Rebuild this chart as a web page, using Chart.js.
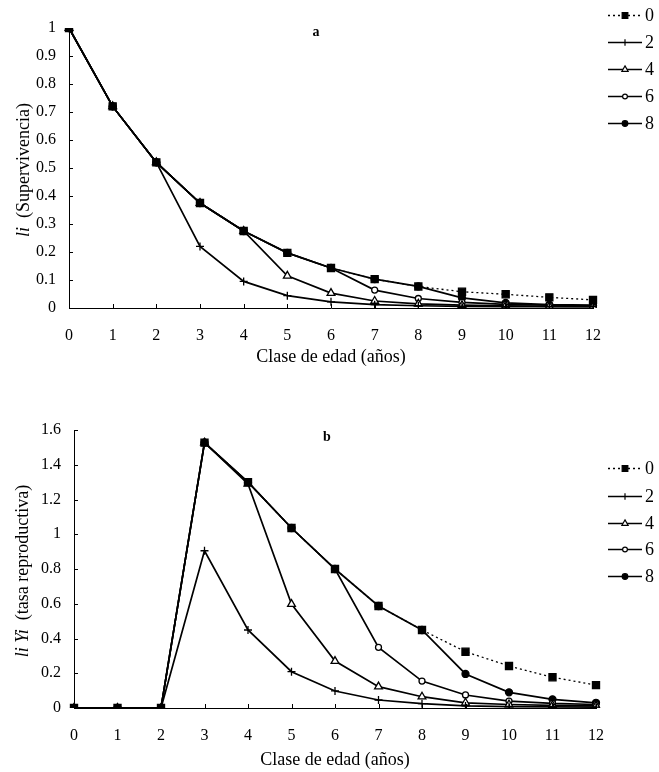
<!DOCTYPE html>
<html><head><meta charset="utf-8">
<script src="https://cdn.jsdelivr.net/npm/chart.js@4"></script>
<style>
html,body{margin:0;padding:0;background:#fff;}
#wa{position:absolute;left:0;top:0;width:659px;height:372px;}
#wb{position:absolute;left:0;top:380px;width:659px;height:392px;}
</style></head><body>
<div id="wa"><canvas id="ca"></canvas></div>
<div id="wb"><canvas id="cb"></canvas></div>
<script>
// ---------- data ----------
const ages = ['0','1','2','3','4','5','6','7','8','9','10','11','12'];
const seriesNames = ['0','2','4','6','8'];

// panel a: li (supervivencia)
const liS0 = [1,0.72,0.52,0.375,0.275,0.197,0.143,0.103,0.077,0.058,0.049,0.038,0.029];
const liS2 = [1,0.72,0.52,0.22,0.095,0.044,0.022,0.012,0.008,0.006,0.005,0.005,0.005];
const liS4 = [1,0.72,0.52,0.375,0.275,0.115,0.053,0.025,0.015,0.01,0.008,0.006,0.005];
const liS6 = [1,0.72,0.52,0.375,0.275,0.197,0.143,0.064,0.034,0.02,0.013,0.01,0.008];
const liS8 = [1,0.72,0.52,0.375,0.275,0.197,0.143,0.103,0.077,0.036,0.018,0.012,0.01];

// panel b: li Yi (tasa reproductiva)
const lyS0 = [0,0,0,1.527,1.30,1.036,0.80,0.587,0.449,0.324,0.242,0.177,0.132];
const lyS2 = [0,0,0,0.905,0.449,0.209,0.098,0.046,0.025,0.012,0.008,0.006,0.005];
const lyS4 = [0,0,0,1.527,1.29,0.598,0.27,0.123,0.065,0.03,0.02,0.015,0.012];
const lyS6 = [0,0,0,1.527,1.30,1.036,0.80,0.349,0.155,0.075,0.04,0.027,0.02];
const lyS8 = [0,0,0,1.527,1.30,1.036,0.80,0.587,0.449,0.196,0.09,0.05,0.03];

const yTicksA = [0,0.1,0.2,0.3,0.4,0.5,0.6,0.7,0.8,0.9,1];
const yLabelsA = ['0','0.1','0.2','0.3','0.4','0.5','0.6','0.7','0.8','0.9','1'];
const yTicksB = [0,0.2,0.4,0.6,0.8,1,1.2,1.4,1.6];
const yLabelsB = ['0','0.2','0.4','0.6','0.8','1','1.2','1.4','1.6'];

// ---------- styles ----------
const FONT = "'Liberation Serif','DejaVu Serif',serif";
const styles = [
  {pointStyle:'rect', pointRadius:5, bg:'#000', dash:[2,3], bw:1.3},
  {pointStyle:'cross', pointRadius:4, bg:'#000', dash:[], bw:1.7},
  {pointStyle:'triangle', pointRadius:4.5, bg:'#fff', dash:[], bw:1.7},
  {pointStyle:'circle', pointRadius:3, bg:'#fff', dash:[], bw:1.7},
  {pointStyle:'circle', pointRadius:3.5, bg:'#000', dash:[], bw:1.7}
];
function buildDatasets(arrs){
  return arrs.map((d,i)=>({
    label: seriesNames[i], data: d,
    borderColor:'#000', borderWidth: styles[i].bw, borderDash: styles[i].dash,
    pointStyle: styles[i].pointStyle, pointRadius: styles[i].pointRadius,
    pointBackgroundColor: styles[i].bg, pointBorderColor:'#000', pointBorderWidth:1.3,
    tension:0, fill:false
  }));
}

function drawMarker(ctx, st, x, y){
  ctx.save();
  ctx.setLineDash([]);
  ctx.strokeStyle='#000'; ctx.fillStyle=st.bg; ctx.lineWidth=1.2;
  const r = st.pointRadius;
  ctx.beginPath();
  if(st.pointStyle==='rect'){ const s=r*Math.SQRT1_2; ctx.rect(x-s,y-s,2*s,2*s); ctx.fill(); ctx.stroke(); }
  else if(st.pointStyle==='cross'){ ctx.moveTo(x-r,y); ctx.lineTo(x+r,y); ctx.moveTo(x,y-r); ctx.lineTo(x,y+r); ctx.stroke(); }
  else if(st.pointStyle==='triangle'){ ctx.moveTo(x,y-r); ctx.lineTo(x+r*0.866,y+r*0.5); ctx.lineTo(x-r*0.866,y+r*0.5); ctx.closePath(); ctx.fill(); ctx.stroke(); }
  else { ctx.arc(x,y,r,0,Math.PI*2); ctx.fill(); ctx.stroke(); }
  ctx.restore();
}

const decorCfg = {
  ca: {letter:'a', letterX:316, letterY:32, xTitleY:357, yTitleX:24, yItalic:'li', yNormal:'  (Supervivencia)', legY:[15,42,69,96,123]},
  cb: {letter:'b', letterX:327, letterY:57, xTitleY:380, yTitleX:23, yItalic:'li Yi', yNormal:'  (tasa reproductiva)', legY:[88,116,143,169,196]}
};

const decor = {
  id:'decor',
  afterDraw(chart){
    const c = decorCfg[chart.canvas.id];
    const ctx = chart.ctx, xs = chart.scales.x, ys = chart.scales.y, a = chart.chartArea;
    ctx.save();
    // inward tick marks
    ctx.strokeStyle='#000'; ctx.lineWidth=1; ctx.setLineDash([]);
    ctx.beginPath();
    xs.ticks.forEach((t,i)=>{ const px=Math.round(xs.getPixelForTick(i))+0.5; ctx.moveTo(px,a.bottom); ctx.lineTo(px,a.bottom-4); });
    ys.ticks.forEach((t,i)=>{ const py=Math.round(ys.getPixelForTick(i))+0.5; ctx.moveTo(a.left,py); ctx.lineTo(a.left+4,py); });
    ctx.stroke();
    // panel letter
    ctx.fillStyle='#000';
    ctx.font = "bold 14px "+FONT; ctx.textAlign='center'; ctx.textBaseline='middle';
    ctx.fillText(c.letter, c.letterX, c.letterY);
    // x title
    ctx.font = "18px "+FONT;
    ctx.fillText('Clase de edad (años)', (a.left+a.right)/2, c.xTitleY);
    // y title (rotated, mixed italic)
    const cy = (a.top+a.bottom)/2 + 2;
    ctx.translate(c.yTitleX, cy); ctx.rotate(-Math.PI/2);
    ctx.font = "italic 18px "+FONT; const w1 = ctx.measureText(c.yItalic).width;
    ctx.font = "18px "+FONT; const w2 = ctx.measureText(c.yNormal).width;
    const start = -(w1+w2)/2;
    ctx.textAlign='left';
    ctx.font = "italic 18px "+FONT; ctx.fillText(c.yItalic, start, 0);
    ctx.font = "18px "+FONT; ctx.fillText(c.yNormal, start+w1, 0);
    ctx.restore();
    // legend
    ctx.save();
    chart.data.datasets.forEach((ds,i)=>{
      const y = c.legY[i], st = styles[i];
      ctx.strokeStyle='#000'; ctx.lineWidth=st.bw; ctx.setLineDash(st.dash);
      ctx.beginPath(); ctx.moveTo(608,y+0.5); ctx.lineTo(642,y+0.5); ctx.stroke();
      drawMarker(ctx, Object.assign({}, st, {pointRadius: st.pointRadius*0.8}), 625, y+0.5);
      ctx.fillStyle='#000'; ctx.font="18px "+FONT; ctx.textAlign='left'; ctx.textBaseline='middle';
      ctx.fillText(ds.label, 645, y+1);
    });
    ctx.restore();
  }
};

function makeChart(id, arrs, cfg){
  return new Chart(document.getElementById(id), {
    type:'line',
    data:{labels: ages, datasets: buildDatasets(arrs)},
    options:{
      responsive:true, maintainAspectRatio:false, animation:false,
      layout:{padding:{top:cfg.top, right:cfg.right, left:0, bottom:0}},
      plugins:{legend:{display:false}, tooltip:{enabled:false}},
      scales:{
        x:{type:'category', offset:false,
           grid:{display:true, drawOnChartArea:false, drawTicks:false},
           border:{display:true, color:'#000', width:1},
           ticks:{color:'#000', font:{family:FONT, size:16}, padding:18, maxRotation:0, autoSkip:false},
           afterFit(s){ s.height = cfg.xh; }},
        y:{type:'linear', min:0, max:cfg.ymax,
           grid:{display:true, drawOnChartArea:false, drawTicks:false},
           border:{display:true, color:'#000', width:1},
           afterBuildTicks(s){ s.ticks = cfg.yticks.map(v=>({value:v})); },
           ticks:{color:'#000', font:{family:FONT, size:16}, padding:cfg.ypad,
                  callback:(v,i)=>cfg.ylabels[i]},
           afterFit(s){ s.width = cfg.yw; }}
      }
    },
    plugins:[decor]
  });
}

makeChart('ca', [liS0,liS2,liS4,liS6,liS8], {top:28, right:66, xh:64, yw:69, ymax:1, yticks:yTicksA, ylabels:yLabelsA, ypad:13});
makeChart('cb', [lyS0,lyS2,lyS4,lyS6,lyS8], {top:50, right:63, xh:64, yw:74, ymax:1.6, yticks:yTicksB, ylabels:yLabelsB, ypad:13});
</script>
</body></html>
